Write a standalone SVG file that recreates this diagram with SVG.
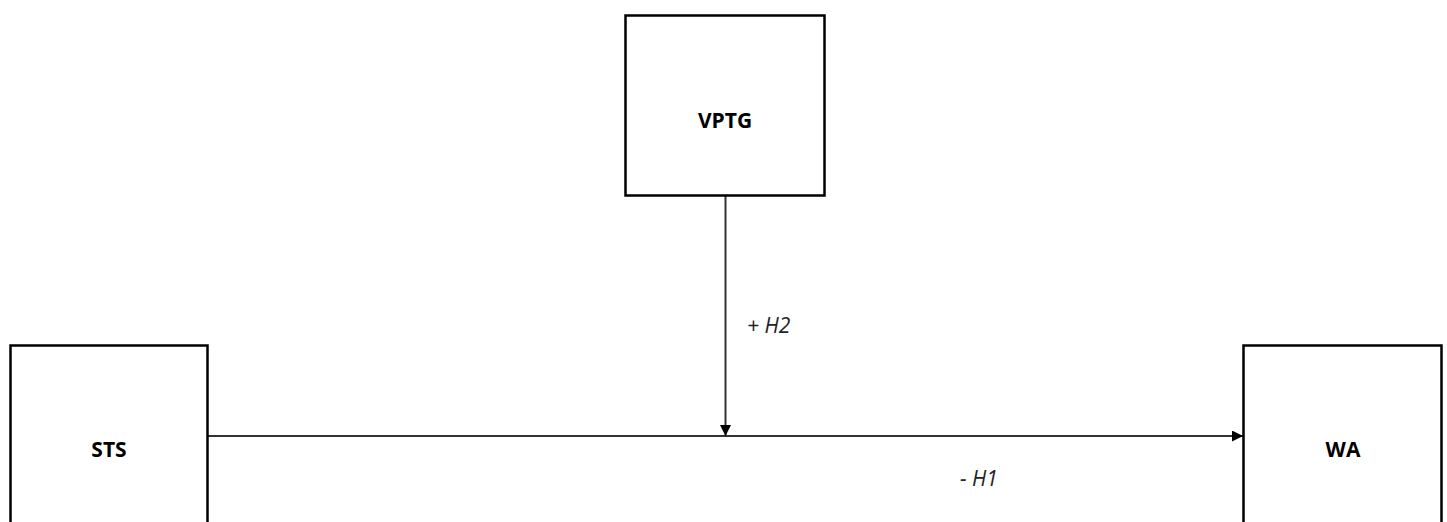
<svg xmlns="http://www.w3.org/2000/svg" width="1447" height="522" viewBox="0 0 1447 522">
<style>
.box{fill:#fff;stroke:#000;stroke-width:2.5}
.lbl{font-family:"Open Sans","Liberation Sans",sans-serif;font-weight:bold;font-size:21px;text-anchor:middle;fill:#000}
.h{font-family:"Open Sans","Liberation Sans",sans-serif;font-style:italic;font-size:21px;fill:#222}
.conn{stroke:#333;stroke-width:2;fill:none}
</style>
<defs>
<marker id="arr" viewBox="0 0 10 10" refX="10" refY="5" markerWidth="11" markerHeight="11" markerUnits="userSpaceOnUse" orient="auto">
<path d="M0,0 L10,5 L0,10 z" fill="#000"/>
</marker>
</defs>
<rect width="1447" height="522" fill="#fff"/>
<g id="connectors">
<line class="conn" x1="207" y1="436" x2="1243" y2="436" marker-end="url(#arr)"/>
<line class="conn" x1="725.5" y1="195" x2="725.5" y2="436" marker-end="url(#arr)"/>
<text class="h" x="747" y="333">+ H2</text>
<text class="h" x="960" y="486">- H1</text>
</g>
<g id="VPTG">
<rect class="box" x="625.5" y="15.5" width="199" height="180"/>
<text class="lbl" x="725" y="128">VPTG</text>
</g>
<g id="STS">
<rect class="box" x="10.5" y="345.5" width="197" height="200"/>
<text class="lbl" x="109" y="457">STS</text>
</g>
<g id="WA">
<rect class="box" x="1243.5" y="345.5" width="198" height="200"/>
<text class="lbl" x="1343" y="457">WA</text>
</g>
</svg>
